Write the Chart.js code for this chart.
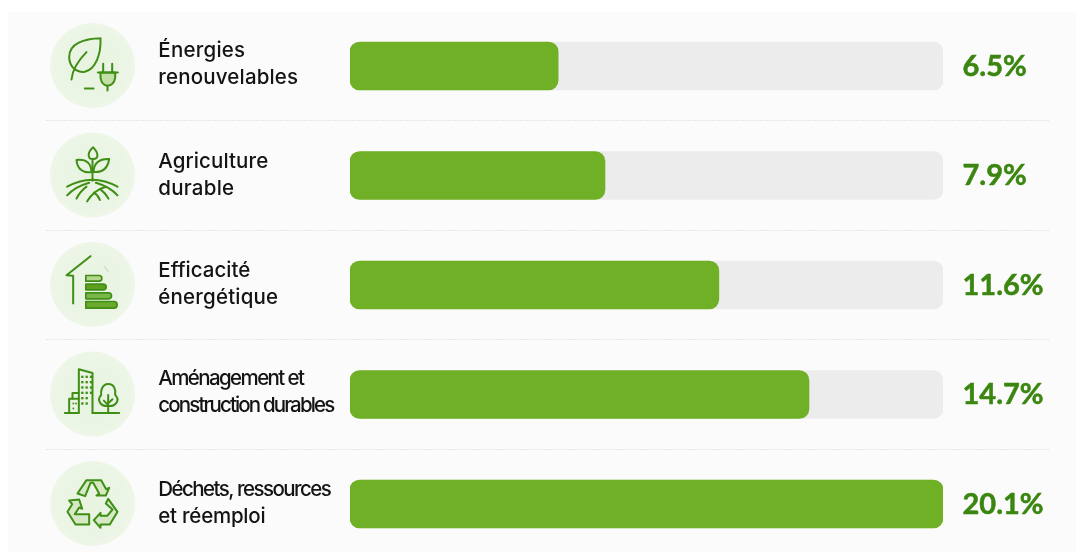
<!DOCTYPE html>
<html lang="fr">
<head>
<meta charset="utf-8">
<title>Parts par thématique</title>
<script src="https://cdn.jsdelivr.net/npm/chart.js@4"></script>
<style>
html,body{margin:0;padding:0;background:#fff;width:1076px;height:552px;overflow:hidden}
#wrap{position:absolute;left:0;top:0;width:1076px;height:552px;overflow:hidden}
canvas{display:block}
</style>
</head>
<body>
<div id="wrap"><canvas id="c" width="1076" height="570"></canvas></div>
<script>
const categories = [
  ["Énergies","renouvelables"],
  ["Agriculture","durable"],
  ["Efficacité","énergétique"],
  ["Aménagement et","construction durables"],
  ["Déchets, ressources","et réemploi"]
];
// Printed percentages
const values = [6.5, 7.9, 11.6, 14.7, 20.1];
// Length of each green bar as drawn, in % of its grey track
const fillLengths = [35.1, 43.0, 62.2, 77.4, 100];
const trackLengths = [100, 100, 100, 100, 100];

const GREEN = '#6fb026', TRACK = '#ececec', VALUE = '#3b8610', LINE = '#3f8e16', SOFT = '#c3dfa8';
// Widths the label lines occupy in the picture (px), and their vertical shift per row
const LABEL_WIDTHS = [[87,140],[110,76],[92,120],[145,175],[172,107]];
const LABEL_SHIFT = [-1.5,0,-0.5,-1.5,-0.5];

function poly(c, pts, close){
  c.beginPath();
  pts.forEach((p,i)=> i ? c.lineTo(p[0],p[1]) : c.moveTo(p[0],p[1]));
  if(close) c.closePath();
}
const icons = [
  function(c){ // leaf + plug, centre 188,165
    c.translate(-188,-165);
    c.beginPath(); c.moveTo(212,83);
    c.bezierCurveTo(165,84,117,98,118,140);
    c.bezierCurveTo(119,168,138,186,165,184);
    c.bezierCurveTo(198,176,214,130,212,83); c.stroke();
    c.beginPath(); c.moveTo(125,207); c.bezierCurveTo(128,175,145,150,170,125); c.stroke();
    c.beginPath(); c.moveTo(212,186); c.lineTo(212,202); c.quadraticCurveTo(216,224,233,226);
    c.quadraticCurveTo(252,224,256,202); c.lineTo(256,186); c.closePath();
    c.fillStyle=SOFT; c.fill(); c.stroke();
    poly(c,[[204,186],[264,186]]); c.stroke();
    poly(c,[[220,160],[220,186]]); c.stroke();
    poly(c,[[247,160],[247,186]]); c.stroke();
    poly(c,[[233,226],[233,240]]); c.stroke();
    poly(c,[[165,234],[191,234]]); c.stroke();
  },
  function(c){ // sprout, centre 188,495
    c.translate(-188,-495);
    c.beginPath(); c.moveTo(190,412); c.bezierCurveTo(172,428,172,447,190,447); c.bezierCurveTo(208,447,206,428,190,412); c.stroke();
    c.beginPath(); c.moveTo(140,450); c.bezierCurveTo(172,446,184,462,185,486); c.bezierCurveTo(158,490,142,476,140,450); c.stroke();
    c.beginPath(); c.moveTo(238,447); c.bezierCurveTo(206,446,192,462,191,486); c.bezierCurveTo(218,488,234,474,238,447); c.stroke();
    poly(c,[[188,447],[188,512]]); c.stroke();
    c.beginPath(); c.moveTo(112,530); c.quadraticCurveTo(188,488,263,530); c.stroke();
    c.beginPath(); c.moveTo(112,556); c.quadraticCurveTo(135,530,178,518); c.stroke();
    c.beginPath(); c.moveTo(140,566); c.quadraticCurveTo(150,545,170,530); c.stroke();
    c.beginPath(); c.moveTo(172,574); c.quadraticCurveTo(192,540,228,530); c.stroke();
    c.beginPath(); c.moveTo(263,556); c.quadraticCurveTo(240,530,198,518); c.stroke();
    c.beginPath(); c.moveTo(210,570); c.quadraticCurveTo(205,555,192,548); c.stroke();
    c.beginPath(); c.moveTo(236,566); c.quadraticCurveTo(228,550,212,538); c.stroke();
  },
  function(c){ // house + energy bars, centre 188,165
    c.translate(-188,-165);
    poly(c,[[130,222],[130,139],[110,137],[182,80]]); c.stroke();
    const bars=[[138,155,208,216,'#b5d68f'],[164,181,220,229,'#5f9f20'],[190,208,236,245,'#7ab648'],[216,236,252,262,'#6aa92c']];
    c.lineWidth=5;
    bars.forEach(b=>{
      c.beginPath(); c.moveTo(168,b[0]); c.lineTo(b[2],b[0]);
      c.quadraticCurveTo(b[3],b[0],b[3],(b[0]+b[1])/2);
      c.quadraticCurveTo(b[3],b[1],b[2],b[1]);
      c.lineTo(168,b[1]); c.closePath();
      c.fillStyle=b[4]; c.fill(); c.stroke();
    });
    c.strokeStyle='#cfe3bd'; poly(c,[[225,113],[235,125]]); c.stroke();
  },
  function(c){ // buildings + tree, centre 188,162
    c.translate(-188,-162);
    poly(c,[[147,218],[147,88],[188,99],[188,218]]); c.stroke();
    poly(c,[[105,219],[147,219]]); c.stroke();
    poly(c,[[188,219],[268,219]]); c.stroke();
    poly(c,[[118,219],[118,176],[147,176]]); c.stroke();
    poly(c,[[128,176],[128,159],[147,159]]); c.stroke();
    c.fillStyle=LINE;
    [157,170,183].forEach((x,ix)=>{
      [110,126,142,158,174,190].forEach(y=>{ if(ix<2||y<160) c.fillRect(x-3,y-3,7,7); });
    });
    [[130,190],[130,205],[138,190]].forEach(p=>c.fillRect(p[0]-2,p[1]-2,5,5));
    c.beginPath(); c.moveTo(235,132);
    c.bezierCurveTo(216,132,212,155,214,165);
    c.bezierCurveTo(200,180,212,200,235,198);
    c.bezierCurveTo(258,200,272,180,256,165);
    c.bezierCurveTo(258,150,254,132,235,132); c.stroke();
    poly(c,[[235,165],[235,219]]); c.stroke();
    poly(c,[[222,182],[235,195]]); c.stroke();
    poly(c,[[248,178],[235,190]]); c.stroke();
  },
  function(c){ // recycling arrows, centre 188,490
    c.translate(-188,-490);
    c.lineJoin='round';
    const top=[[143,460],[170,420],[214,420],[229,447],[238,443],[228,466],[200,466],[208,460],[190,428],[182,428],[166,468]];
    const left=[[118,481],[148,478],[157,506],[148,502],[135,522],[178,522],[178,553],[137,553],[113,515],[127,492]];
    const right=[[235,476],[263,515],[240,553],[212,553],[212,563],[192,540],[212,518],[212,527],[232,527],[248,508],[228,490]];
    [top,left,right].forEach(p=>{
      poly(c,p,true);
      c.fillStyle='#d6e9c4'; c.fill(); c.stroke();
    });
  }
];

const panelPlugin = {
  id:'panel',
  beforeDraw(chart){
    const c=chart.ctx;
    c.save();
    c.fillStyle='#fbfbfb';
    c.fillRect(8,12,1068,558);
    const m=chart.getDatasetMeta(0).data;
    c.strokeStyle='#e6e6e6'; c.lineWidth=1; c.setLineDash([2,1]);
    for(let i=0;i<m.length-1;i++){
      const y=Math.floor((m[i].y+m[i+1].y)/2)+0.5;
      c.beginPath(); c.moveTo(46,y); c.lineTo(1049,y); c.stroke();
    }
    c.setLineDash([]);
    c.restore();
  },
  afterDraw(chart){
    const c=chart.ctx;
    const m=chart.getDatasetMeta(1).data;
    const yScale=chart.scales.y;
    m.forEach((bar,i)=>{
      const cy=bar.y-0.5, cx=92.5;
      c.save();
      const g=c.createRadialGradient(cx,cy,5,cx,cy,43);
      g.addColorStop(0,'#e8f3e0'); g.addColorStop(1,'#edf6e7');
      c.fillStyle=g;
      c.beginPath(); c.arc(cx,cy,42.5,0,Math.PI*2); c.fill();
      c.translate(cx,cy); c.scale(1/3,1/3);
      c.strokeStyle=LINE; c.lineWidth=6; c.lineCap='round'; c.lineJoin='round';
      icons[i](c);
      c.restore();

      // category label, two lines, on the y scale's position
      c.save();
      c.font='500 20.5px "Inter"';
      c.fillStyle='#141414'; c.textAlign='left'; c.textBaseline='middle';
      const ty=yScale.getPixelForTick(i)+LABEL_SHIFT[i];
      categories[i].forEach((line,k)=>{
        c.letterSpacing='0px';
        const w=c.measureText(line).width;
        c.letterSpacing=((LABEL_WIDTHS[i][k]-w)/line.length).toFixed(3)+'px';
        c.fillText(line,158.3,ty+(k===0?-14:13));
      });
      c.letterSpacing='0px';
      c.restore();

      // printed value
      c.save();
      c.font='700 29px "Lato"';
      c.fillStyle=VALUE; c.strokeStyle=VALUE; c.lineWidth=0.5; c.lineJoin='round';
      c.textAlign='left'; c.textBaseline='middle';
      const s=values[i].toFixed(1)+'%';
      c.fillText(s,962.5,bar.y+0.5);
      c.strokeText(s,962.5,bar.y+0.5);
      c.restore();
    });
  }
};

new Chart(document.getElementById('c'),{
  type:'bar',
  data:{
    labels:categories,
    datasets:[
      {label:'Piste',data:trackLengths,backgroundColor:TRACK,order:2,grouped:false,barThickness:48,borderRadius:10,borderSkipped:false},
      {label:'Part',data:fillLengths,backgroundColor:GREEN,order:1,grouped:false,barThickness:48,borderRadius:10,borderSkipped:false}
    ]
  },
  options:{
    indexAxis:'y',
    responsive:false,
    animation:false,
    events:[],
    layout:{padding:{left:350,right:133,top:11.25,bottom:11.25}},
    plugins:{legend:{display:false},tooltip:{enabled:false}},
    scales:{
      x:{display:false,min:0,max:100,grid:{display:false}},
      y:{display:false,grid:{display:false}}
    }
  },
  plugins:[panelPlugin]
});
</script>
</body>
</html>
